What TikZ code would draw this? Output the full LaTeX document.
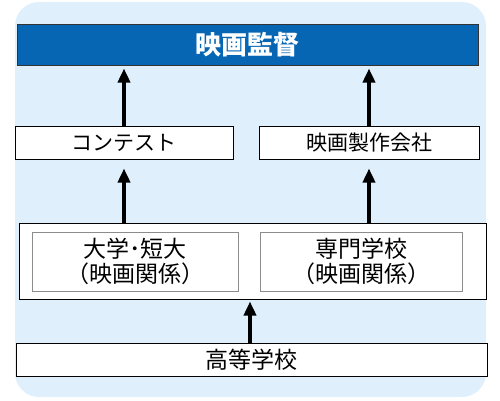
\documentclass[tikz,border=0pt]{standalone}
\usepackage{fontspec}
\setmainfont{Noto Sans CJK JP}
\usetikzlibrary{arrows.meta}
\definecolor{bgblue}{HTML}{DFEFFB}
\definecolor{hdblue}{HTML}{0766B4}
\definecolor{innergray}{HTML}{8C8C8C}
\tikzset{
  box/.style={draw=black, line width=1pt, fill=white, inner sep=0pt, font=\fontsize{21}{25}\selectfont},
  innerbox/.style={draw=innergray, line width=1pt, fill=white, inner sep=0pt, align=center, font=\fontsize{23}{25}\selectfont},
  header/.style={draw=black!80, line width=1pt, fill=hdblue, text=white, inner sep=0pt, font=\fontsize{26}{28}\selectfont\bfseries},
  uparrow/.style={line width=4pt, -{Triangle[width=12pt,length=14pt]}}
}
\begin{document}
\begin{tikzpicture}[x=1pt,y=-1pt]
\useasboundingbox (0,0) rectangle (500,400);
\fill[bgblue, rounded corners=24pt] (15,2) rectangle (486,397);
\node[header, minimum width=461pt, minimum height=41pt] (top) at (247.5,44.5) {映画監督};
\node[box, minimum width=218pt, minimum height=33pt] (contest) at (124,142.5) {コンテスト};
\node[box, minimum width=220pt, minimum height=33pt] (company) at (369,142.5) {映画製作会社};
\node[box, minimum width=467pt, minimum height=76pt] (big) at (252.5,261) {};
\node[innerbox, minimum width=206pt, minimum height=59pt] (univ) at (135,261.5) {大学･短大\\（映画関係）};
\node[innerbox, minimum width=202pt, minimum height=59pt] (senmon) at (361,261.5) {専門学校\\（映画関係）};
\node[box, minimum width=471pt, minimum height=33pt, font=\fontsize{23}{26}\selectfont] (high) at (251.5,359.5) {高等学校};
\draw[uparrow, shorten >=3pt] (contest.north) -- (contest.north |- top.south);
\draw[uparrow, shorten >=3pt] (company.north) -- (company.north |- top.south);
\draw[uparrow, shorten >=9pt] (contest.south |- big.north) -- (contest.south);
\draw[uparrow, shorten >=9pt] (company.south |- big.north) -- (company.south);
\draw[uparrow, shorten >=2pt] (high.north -| 250,0) -- (big.south -| 250,0);
\end{tikzpicture}
\end{document}
